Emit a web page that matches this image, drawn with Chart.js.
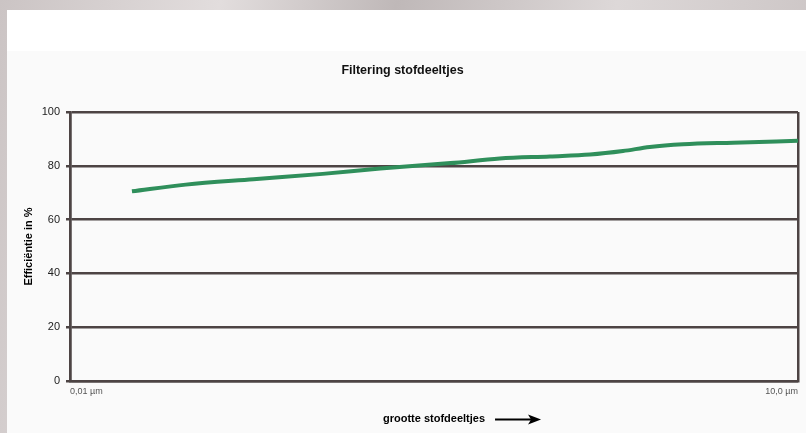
<!DOCTYPE html>
<html>
<head>
<meta charset="utf-8">
<script src="https://cdn.jsdelivr.net/npm/chart.js@4.4.1/dist/chart.umd.min.js"></script>
<style>
  html, body { margin: 0; padding: 0; }
  body {
    width: 806px; height: 433px; overflow: hidden; position: relative;
    background: linear-gradient(100deg, #cbc4c4 0%, #e2dddd 25%, #bfb8b8 45%, #ddd8d8 70%, #c8c1c1 100%);
  }
  #panel {
    position: absolute; left: 7px; top: 10px; right: 0; bottom: 0;
    background: #ffffff;
  }
  #panel-inner {
    position: absolute; left: 0; top: 41px; right: 0; bottom: 0;
    background: #fafafa;
  }
  #wrap { position: absolute; left: 0; top: 0; width: 806px; height: 433px; }
</style>
</head>
<body>
<div id="panel"><div id="panel-inner"></div></div>
<div id="wrap"><canvas id="filter-chart"></canvas></div>
<script>
// Filtering stofdeeltjes - efficiency vs particle size

// particle size (µm, log axis) and efficiency (%)
const particleSizes = [0.018, 0.03, 0.057, 0.11, 0.19, 0.37, 0.59, 0.95, 1.39, 1.9, 2.45, 3.36, 5.4, 10];
const efficiency = [70.5, 73, 75, 77, 79, 81, 82.7, 83.5, 84.2, 85.5, 87, 88, 88.6, 89.3];

// x axis tick values and their labels
const xTickValues = [0.01, 10];
const xTickLabels = ['0,01 µm', '10,0 µm'];

const gridColor = '#4d4444';
const lineColor = '#2f8f5b';
const fontFamily = '"Liberation Sans", Arial, sans-serif';

// arrow after the x axis title
const arrowPlugin = {
  id: 'titleArrow',
  afterDraw(chart) {
    const x = chart.scales.x;
    const ctx = chart.ctx;
    const title = x.options.title;
    ctx.save();
    ctx.font = 'bold 11px ' + fontFamily;
    const w = ctx.measureText(title.text).width;
    const cx = (x.left + x.right) / 2;
    const y = x.bottom - title.padding.bottom - 6.6;
    const x0 = cx + w / 2 + 10;
    const x1 = x0 + 46;
    ctx.strokeStyle = '#000';
    ctx.fillStyle = '#000';
    ctx.lineWidth = 2;
    ctx.beginPath();
    ctx.moveTo(x0, y);
    ctx.lineTo(x1 - 8, y);
    ctx.stroke();
    ctx.beginPath();
    ctx.moveTo(x1, y);
    ctx.lineTo(x1 - 13, y - 5);
    ctx.lineTo(x1 - 10, y);
    ctx.lineTo(x1 - 13, y + 5);
    ctx.closePath();
    ctx.fill();
    ctx.restore();
  }
};

function initializeChart() {
  const ctx = document.getElementById('filter-chart').getContext('2d');

  new Chart(ctx, {
    type: 'line',
    data: {
      datasets: [{
        label: 'Efficiëntie',
        data: particleSizes.map((s, i) => ({ x: s, y: efficiency[i] })),
        borderColor: lineColor,
        backgroundColor: lineColor,
        borderWidth: 4,
        pointRadius: 0,
        cubicInterpolationMode: 'monotone',
        fill: false
      }]
    },
    options: {
      responsive: false,
      animation: false,
      layout: { padding: { left: 7, right: 8, top: 0, bottom: 0 } },
      plugins: {
        legend: { display: false },
        tooltip: { enabled: false },
        title: {
          display: true,
          text: 'Filtering stofdeeltjes',
          color: '#111',
          font: { family: fontFamily, size: 12.5, weight: 'bold' },
          padding: { top: 63, bottom: 34 }
        }
      },
      scales: {
        x: {
          type: 'logarithmic',
          min: 0.01,
          max: 10,
          afterBuildTicks(axis) {
            axis.ticks = xTickValues.map(v => ({ value: v }));
          },
          afterFit(scale) { scale.height = 52; },
          ticks: {
            autoSkip: false,
            maxRotation: 0,
            align: 'inner',
            padding: 5,
            color: '#555',
            font: { family: fontFamily, size: 9 },
            callback: (value) => xTickLabels[xTickValues.indexOf(value)]
          },
          grid: { color: gridColor, lineWidth: 2.5, drawTicks: false },
          border: { display: true, color: gridColor, width: 2.5 },
          title: {
            display: true,
            text: 'grootte stofdeeltjes',
            color: '#000',
            font: { family: fontFamily, size: 11, weight: 'bold' },
            padding: { top: 0, bottom: 7 }
          }
        },
        y: {
          min: 0,
          max: 100,
          afterFit(scale) { scale.width = 63; },
          ticks: {
            stepSize: 20,
            padding: 6,
            color: '#222',
            font: { family: fontFamily, size: 11 }
          },
          grid: { color: gridColor, lineWidth: 2.5, tickLength: 4 },
          border: { display: true, color: gridColor, width: 2.5 },
          title: {
            display: true,
            text: 'Efficiëntie in %',
            color: '#000',
            font: { family: fontFamily, size: 11, weight: 'bold' },
            padding: { top: 15, bottom: 0 }
          }
        }
      }
    },
    plugins: [arrowPlugin]
  });
}

const canvas = document.getElementById('filter-chart');
canvas.width = 806;
canvas.height = 433;
canvas.style.width = '806px';
canvas.style.height = '433px';
initializeChart();
</script>
</body>
</html>
